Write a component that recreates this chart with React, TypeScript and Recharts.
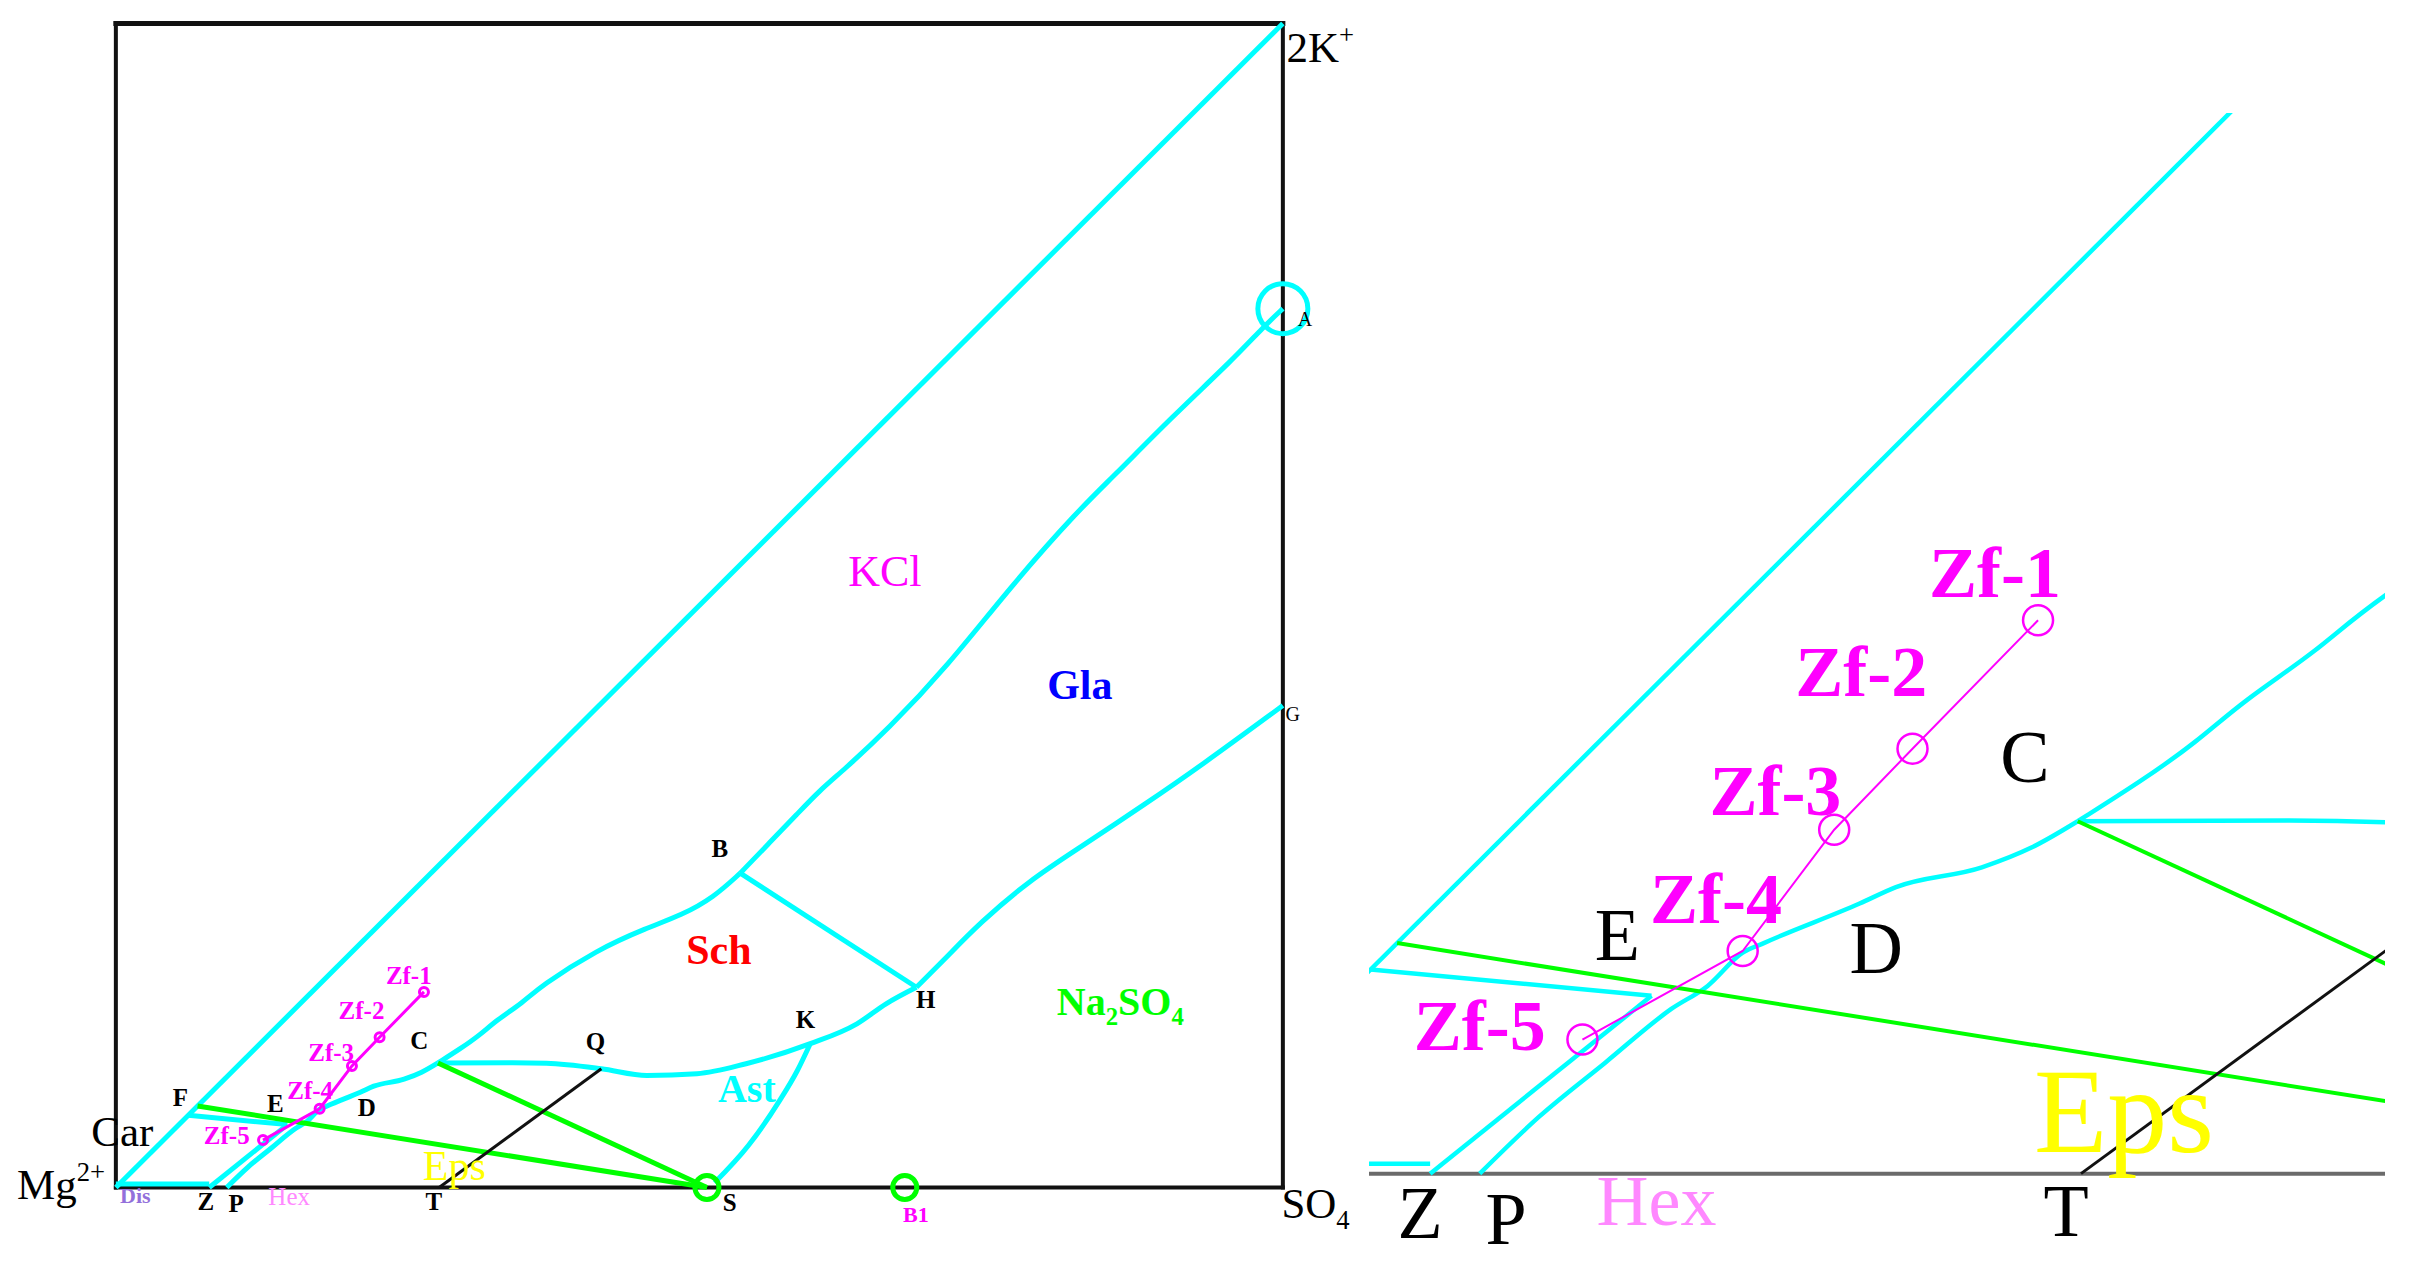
import React from 'react';
import { ComposedChart, Line, Scatter, XAxis, YAxis } from 'recharts';

type Pt = { x: number; y: number };
const toPts = (pairs: number[][]): Pt[] => pairs.map(([x, y]) => ({ x, y }));

// ---- frame of the square diagram (Mg2+ at origin, SO4 bottom-right, 2K+ top-right)
const frameLeftSide = toPts([[0, 0], [0, 100]]);
const frameTopSide = toPts([[0, 100], [100, 100]]);
const frameRightSide = toPts([[100, 100], [100, 0]]);
const frameBottomSide = toPts([[0, 0], [100, 0]]);

// ---- cyan phase boundaries
const diagonal = toPts([[0, 0], [100, 100]]);
const baseSegment = toPts([[0, 0.3], [8.0, 0.3]]);
const carLine = toPts([[6.2, 6.2], [14.7, 5.4]]);
const zLine = toPts([[8.0, 0], [14.7, 5.4]]);
const pedcCurve = toPts([
  [9.5, 0], [11.3, 1.73], [13.3, 3.37], [15.3, 5.0], [16.4, 5.7], [17.45, 6.7],
  [18.1, 7.0], [21.0, 8.2], [22.1, 8.7], [24.7, 9.3], [26.2, 9.9], [27.6, 10.7],
]);
const cbCurve = toPts([
  [27.6, 10.7], [29.5, 11.9], [31.2, 13.1], [32.6, 14.35], [34.9, 15.9], [36.4, 17.3],
  [41.2, 20.4], [45.5, 22.3], [48.5, 23.4], [51.2, 24.9], [53.5, 27.0],
]);
const baCurve = toPts([
  [53.5, 27.0], [56.0, 29.6], [58.4, 32.1], [60.3, 34.1], [62.3, 35.8], [66.1, 39.3],
  [71.2, 44.7], [76.9, 51.9], [82.5, 58.2], [85.4, 61.0], [90.5, 66.2], [95.8, 71.2],
  [98.3, 73.9], [100, 75.5],
]);
const bhLine = toPts([[53.5, 27.0], [68.6, 17.2]]);
const cqkhCurve = toPts([
  [27.6, 10.7], [34.0, 10.72], [36.9, 10.67], [41.6, 10.2], [45.5, 9.62], [49.8, 9.77],
  [54.0, 10.63], [59.5, 12.35], [63.5, 14.06], [66.0, 15.78], [68.6, 17.2],
]);
const ksCurve = toPts([[51.3, 0.4], [54.2, 3.6], [56.9, 7.5], [58.4, 10.05], [59.5, 12.35]]);
const hgCurve = toPts([
  [68.6, 17.2], [71.2, 19.8], [74.0, 22.7], [78.3, 26.4], [82.6, 29.2], [88.3, 33.0],
  [92.8, 36.1], [100, 41.4],
]);

// ---- green tie lines, black line
const fsTie = toPts([[7.0, 7.0], [50.65, 0]]);
const csTie = toPts([[27.6, 10.7], [50.65, 0]]);
const tqLine = toPts([[27.7, 0], [41.6, 10.2]]);

// ---- sample points Zf-1 .. Zf-5
const zfPoints = toPts([[26.4, 16.8], [22.6, 12.9], [20.23, 10.44], [17.46, 6.76], [12.61, 4.07]]);
const aPoint = toPts([[100, 75.5]]);
const greenPoints = toPts([[50.65, 0], [67.6, 0]]);

// ---- text labels (anchor = centre x, baseline y, in diagram units)
type Lab = { text: string; x: number; y: number; kind: string };
const labels: Lab[] = [
  { text: '2K^{+}', x: 103.2, y: 96.65, kind: 'corner' },
  { text: 'Mg^{2+}', x: -4.7, y: -1.03, kind: 'corner' },
  { text: 'SO_{4}', x: 102.8, y: -2.66, kind: 'corner' },
  { text: 'Car', x: 0.56, y: 3.52, kind: 'corner' },
  { text: 'A', x: 101.9, y: 74.05, kind: 'small' },
  { text: 'G', x: 100.85, y: 40.1, kind: 'small' },
  { text: 'B', x: 51.75, y: 28.35, kind: 'point' },
  { text: 'H', x: 69.4, y: 15.4, kind: 'point' },
  { text: 'K', x: 59.1, y: 13.66, kind: 'point' },
  { text: 'Q', x: 41.1, y: 11.8, kind: 'point' },
  { text: 'C', x: 26.0, y: 11.9, kind: 'point' },
  { text: 'D', x: 21.5, y: 6.1, kind: 'point' },
  { text: 'E', x: 13.67, y: 6.5, kind: 'point' },
  { text: 'F', x: 5.53, y: 7.04, kind: 'point' },
  { text: 'Z', x: 7.7, y: -1.95, kind: 'point' },
  { text: 'P', x: 10.3, y: -2.15, kind: 'point' },
  { text: 'T', x: 27.25, y: -1.9, kind: 'point' },
  { text: 'S', x: 52.6, y: -1.98, kind: 'point' },
  { text: 'Zf-1', x: 25.1, y: 17.5, kind: 'zf' },
  { text: 'Zf-2', x: 21.05, y: 14.5, kind: 'zf' },
  { text: 'Zf-3', x: 18.45, y: 10.9, kind: 'zf' },
  { text: 'Zf-4', x: 16.65, y: 7.6, kind: 'zf' },
  { text: 'Zf-5', x: 9.5, y: 3.75, kind: 'zf' },
  { text: 'KCl', x: 65.9, y: 51.7, kind: 'kcl' },
  { text: 'Gla', x: 82.6, y: 42.0, kind: 'gla' },
  { text: 'Sch', x: 51.67, y: 19.24, kind: 'sch' },
  { text: 'Ast', x: 54.07, y: 7.3, kind: 'ast' },
  { text: 'Na_{2}SO_{4}', x: 86.07, y: 14.78, kind: 'na' },
  { text: 'Eps', x: 29.0, y: 0.65, kind: 'eps' },
  { text: 'Hex', x: 14.85, y: -1.55, kind: 'hex' },
  { text: 'Dis', x: 1.67, y: -1.37, kind: 'dis' },
  { text: 'B1', x: 68.55, y: -3.0, kind: 'b1' },
];

const SERIF = '"Liberation Serif", "DejaVu Serif", serif';
const CYAN = '#00ffff';
const GREEN = '#00ff00';
const MAGENTA = '#ff00ff';

type LStyle = { fill: string; size: number; insetSize: number; weight: string; insetWeight: string };
const labelStyles: Record<string, LStyle> = {
  corner: { fill: '#000', size: 43, insetSize: 0, weight: 'normal', insetWeight: 'normal' },
  small: { fill: '#000', size: 20, insetSize: 0, weight: 'normal', insetWeight: 'normal' },
  point: { fill: '#000', size: 25, insetSize: 74, weight: 'bold', insetWeight: 'normal' },
  zf: { fill: MAGENTA, size: 25, insetSize: 72, weight: 'bold', insetWeight: 'bold' },
  kcl: { fill: MAGENTA, size: 44, insetSize: 0, weight: 'normal', insetWeight: 'normal' },
  gla: { fill: '#0000ff', size: 42, insetSize: 0, weight: 'bold', insetWeight: 'bold' },
  sch: { fill: '#ff0000', size: 42, insetSize: 0, weight: 'bold', insetWeight: 'bold' },
  ast: { fill: CYAN, size: 40, insetSize: 0, weight: 'bold', insetWeight: 'bold' },
  na: { fill: GREEN, size: 40, insetSize: 0, weight: 'bold', insetWeight: 'bold' },
  eps: { fill: '#ffff00', size: 42, insetSize: 120, weight: 'normal', insetWeight: 'normal' },
  hex: { fill: '#ff88ff', size: 25, insetSize: 72, weight: 'normal', insetWeight: 'normal' },
  dis: { fill: '#9370db', size: 22, insetSize: 0, weight: 'bold', insetWeight: 'bold' },
  b1: { fill: MAGENTA, size: 22, insetSize: 0, weight: 'bold', insetWeight: 'bold' },
};

function richText(text: string, size: number) {
  const parts = text.split(/(\^\{[^}]*\}|_\{[^}]*\})/).filter((s) => s.length > 0);
  let shift = 0;
  return parts.map((p, i) => {
    let target = 0;
    let content = p;
    let fs = size;
    if (p.startsWith('^{')) {
      target = -0.42 * size;
      content = p.slice(2, -1);
      fs = size * 0.62;
    } else if (p.startsWith('_{')) {
      target = 0.25 * size;
      content = p.slice(2, -1);
      fs = size * 0.62;
    }
    const dy = target - shift;
    shift = target;
    return (
      <tspan key={i} dy={dy} fontSize={fs}>
        {content}
      </tspan>
    );
  });
}

type PanelCfg = {
  inset: boolean;
  left: number;
  top: number;
  width: number;
  height: number;
  xDomain: [number, number];
  yDomain: [number, number];
  w: { cyan: number; green: number; black: number; magenta: number; frame: number };
};

// left panel: x=0 at px 116, 11.67 px/unit ; y=0 at px 1187, 11.64 px/unit
const LX0 = 116, LY0 = 1187, LSX = 11.67, LSY = 11.64;
const leftCfg: PanelCfg = {
  inset: false,
  xDomain: [-9.5, 110],
  yDomain: [-6, 101.5],
  left: LX0 + -9.5 * LSX,
  top: LY0 - 101.5 * LSY,
  width: 119.5 * LSX,
  height: 107.5 * LSY,
  w: { cyan: 5, green: 5, black: 3, magenta: 3, frame: 4 },
};
// inset: x=27.6 at px 2078, 33.04 px/unit ; y=0 at px 1174, 32.94 px/unit
const IXR = 27.6, IXP = 2078, IY0 = 1174, ISX = 33.04, ISY = 32.94;
const insetCfg: PanelCfg = {
  inset: true,
  xDomain: [6.15, 36.9],
  yDomain: [-2.65, 32.2],
  left: IXP + (6.15 - IXR) * ISX,
  top: IY0 - 32.2 * ISY,
  width: 30.75 * ISX,
  height: 34.85 * ISY,
  w: { cyan: 4.5, green: 4, black: 3, magenta: 2, frame: 4 },
};

function Panel({ cfg }: { cfg: PanelCfg }) {
  const { w, inset } = cfg;
  const frame = inset
    ? [{ k: 'axis', d: frameBottomSide, c: '#6b6b6b', sw: w.frame }]
    : [
        { k: 'fl', d: frameLeftSide, c: '#111', sw: w.frame },
        { k: 'ft', d: frameTopSide, c: '#111', sw: w.frame + 1 },
        { k: 'fr', d: frameRightSide, c: '#111', sw: w.frame },
        { k: 'fb', d: frameBottomSide, c: '#111', sw: w.frame },
      ];
  const curves: { k: string; d: Pt[]; c: string; sw: number; t: 'linear' | 'monotone' | 'basis' }[] = [
    { k: 'diag', d: diagonal, c: CYAN, sw: w.cyan, t: 'linear' },
    { k: 'base', d: baseSegment, c: CYAN, sw: w.cyan, t: 'linear' },
    { k: 'car', d: carLine, c: CYAN, sw: w.cyan, t: 'linear' },
    { k: 'z', d: zLine, c: CYAN, sw: w.cyan, t: 'linear' },
    { k: 'pedc', d: pedcCurve, c: CYAN, sw: w.cyan, t: 'monotone' },
    { k: 'cb', d: cbCurve, c: CYAN, sw: w.cyan, t: 'basis' },
    { k: 'ba', d: baCurve, c: CYAN, sw: w.cyan, t: 'basis' },
    { k: 'bh', d: bhLine, c: CYAN, sw: w.cyan, t: 'linear' },
    { k: 'cqkh', d: cqkhCurve, c: CYAN, sw: w.cyan, t: 'monotone' },
    { k: 'ks', d: ksCurve, c: CYAN, sw: w.cyan, t: 'monotone' },
    { k: 'hg', d: hgCurve, c: CYAN, sw: w.cyan, t: 'basis' },
    { k: 'fs', d: fsTie, c: GREEN, sw: w.green, t: 'linear' },
    { k: 'cs', d: csTie, c: GREEN, sw: w.green, t: 'linear' },
    { k: 'tq', d: tqLine, c: '#111', sw: w.black, t: 'linear' },
    { k: 'zf', d: zfPoints, c: MAGENTA, sw: w.magenta, t: 'linear' },
  ];
  const shownLabels = labels.filter((l) => {
    if (!inset) return true;
    const st = labelStyles[l.kind];
    return (
      st.insetSize > 0 &&
      l.x >= cfg.xDomain[0] && l.x <= cfg.xDomain[1] &&
      l.y >= cfg.yDomain[0] && l.y <= cfg.yDomain[1]
    );
  });
  const ring = (r: number, color: string, sw: number) => (props: any) => {
    const { cx, cy } = props;
    if (cx == null || cy == null) return <g />;
    return <circle cx={cx} cy={cy} r={r} fill="none" stroke={color} strokeWidth={sw} />;
  };
  const labelShape = (props: any) => {
    const { cx, cy, payload } = props;
    if (cx == null || cy == null || !payload) return <g />;
    const st = labelStyles[payload.kind];
    const size = inset ? st.insetSize : st.size;
    return (
      <text
        x={cx}
        y={cy}
        textAnchor="middle"
        fontFamily={SERIF}
        fontSize={size}
        fontWeight={inset ? st.insetWeight : st.weight}
        fill={st.fill}
      >
        {richText(payload.text, size)}
      </text>
    );
  };
  return (
    <div style={{ position: 'absolute', left: cfg.left, top: cfg.top, width: cfg.width, height: cfg.height }}>
      <ComposedChart width={cfg.width} height={cfg.height} margin={{ top: 0, right: 0, bottom: 0, left: 0 }}>
        <XAxis type="number" dataKey="x" domain={cfg.xDomain} allowDataOverflow hide />
        <YAxis type="number" dataKey="y" domain={cfg.yDomain} allowDataOverflow hide />
        {frame.map((f) => (
          <Line
            key={f.k}
            data={f.d}
            dataKey="y"
            type="linear"
            stroke={f.c}
            strokeWidth={f.sw}
            dot={false}
            activeDot={false}
            isAnimationActive={false}
            strokeLinecap="square"
          />
        ))}
        {curves.map((c) => (
          <Line
            key={c.k}
            data={c.d}
            dataKey="y"
            type={c.t}
            stroke={c.c}
            strokeWidth={c.sw}
            dot={false}
            activeDot={false}
            isAnimationActive={false}
          />
        ))}
        <Scatter data={aPoint} shape={ring(inset ? 70 : 25, CYAN, 5)} isAnimationActive={false} />
        <Scatter data={greenPoints} shape={ring(inset ? 34 : 12, GREEN, 5)} isAnimationActive={false} />
        <Scatter
          data={zfPoints}
          shape={ring(inset ? 15 : 4.5, MAGENTA, inset ? 2.5 : 3)}
          isAnimationActive={false}
        />
        <Scatter data={shownLabels} shape={labelShape} isAnimationActive={false} />
      </ComposedChart>
    </div>
  );
}

export default function App() {
  return (
    <div
      style={{
        position: 'absolute',
        left: 0,
        top: 0,
        width: 2418,
        height: 1262,
        overflow: 'hidden',
        background: '#fff',
      }}
    >
      <Panel cfg={leftCfg} />
      <Panel cfg={insetCfg} />
    </div>
  );
}
